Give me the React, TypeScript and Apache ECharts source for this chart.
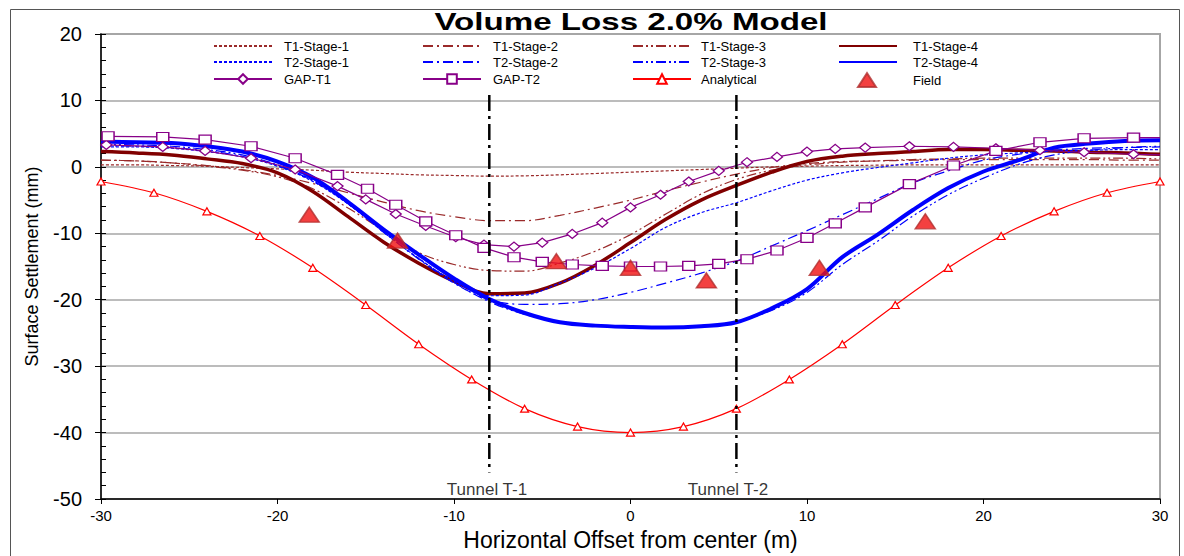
import React, { useEffect, useRef } from "react";
import * as echarts from "echarts";

// ---------- data ----------
const xGrid = [-30, -28, -26, -24, -22, -20, -18, -16, -14, -12, -10, -8, -6, -4, -2, 0, 2, 4, 6, 8, 10, 12, 14, 16, 18, 20, 22, 24, 26, 28, 30];

const t1Stage1 = [0.3, 0.3, 0.2, 0.1, -0.1, -0.3, -0.5, -0.8, -1.0, -1.2, -1.3, -1.4, -1.35, -1.2, -1.0, -0.8, -0.6, -0.4, -0.2, 0.0, 0.1, 0.2, 0.25, 0.3, 0.3, 0.3, 0.3, 0.3, 0.3, 0.3, 0.3];
const t1Stage2 = [1.0, 0.9, 0.6, 0.2, -0.4, -1.3, -2.5, -3.9, -5.3, -6.6, -7.5, -8.1, -8.1, -7.3, -6.2, -5.0, -3.6, -2.3, -1.1, -0.1, 0.5, 0.8, 0.9, 1.0, 1.1, 1.1, 1.1, 1.1, 1.1, 1.0, 1.0];
const t1Stage3 = [1.0, 0.9, 0.6, 0.1, -0.5, -1.5, -3.3, -6.2, -9.6, -12.9, -14.7, -15.6, -15.7, -14.5, -12.7, -10.2, -7.1, -4.1, -1.9, -0.5, 0.3, 0.7, 0.9, 1.1, 1.2, 1.3, 1.3, 1.3, 1.3, 1.3, 1.2];
const t1Stage4 = [2.3, 2.1, 1.8, 1.2, 0.5, -0.9, -3.7, -7.5, -11.3, -14.5, -17.2, -19.1, -19.0, -17.5, -14.8, -11.4, -7.9, -5.0, -2.8, -0.8, 0.8, 1.6, 2.0, 2.3, 2.6, 2.6, 2.5, 2.4, 2.2, 2.1, 1.9];
const t2Stage1 = [3.0, 3.0, 2.8, 2.3, 1.5, 0.1, -2.2, -5.6, -9.8, -13.8, -17.2, -19.4, -19.3, -17.5, -15.2, -12.3, -9.1, -6.9, -5.4, -3.6, -2.0, -0.9, -0.1, 0.6, 1.3, 1.8, 2.1, 2.4, 2.5, 2.6, 2.6];
const t2Stage2 = [3.2, 3.1, 2.9, 2.4, 1.6, 0.2, -2.1, -5.5, -9.8, -13.9, -17.5, -20.0, -20.7, -20.6, -20.0, -18.9, -17.5, -16.0, -14.2, -11.9, -9.6, -7.2, -4.8, -2.4, -0.6, 1.0, 1.9, 2.5, 2.8, 2.9, 3.0];
const t2Stage3 = [3.4, 3.3, 3.1, 2.6, 1.8, 0.3, -2.0, -5.5, -9.8, -13.8, -17.4, -20.3, -22.2, -23.3, -23.8, -24.0, -24.1, -23.9, -23.3, -21.6, -18.9, -14.7, -11.2, -7.4, -4.2, -1.7, 0.4, 1.8, 2.5, 2.9, 3.1];
const t2Stage4 = [3.8, 3.7, 3.6, 3.1, 2.3, 0.8, -1.6, -5.3, -9.4, -13.2, -16.8, -19.9, -22.0, -23.4, -23.9, -24.1, -24.2, -24.0, -23.4, -21.3, -18.4, -13.6, -10.2, -6.5, -3.2, -0.7, 1.0, 2.9, 3.5, 3.9, 4.0];

const gapT1X = [-29.7, -26.5, -24.1, -21.5, -19.0, -16.6, -15.0, -13.3, -11.6, -9.9, -8.3, -6.6, -5.0, -3.3, -1.6, 0.0, 1.7, 3.3, 5.0, 6.6, 8.3, 10.0, 11.6, 13.3, 15.8, 18.3, 20.7, 23.2, 25.7, 28.5];
const gapT1Y = [3.3, 3.0, 2.4, 1.3, -0.4, -2.9, -4.9, -7.1, -8.9, -10.6, -11.7, -12.0, -11.4, -10.1, -8.4, -6.1, -4.2, -2.2, -0.6, 0.7, 1.5, 2.3, 2.7, 2.9, 3.1, 3.0, 2.8, 2.5, 2.2, 1.9];
const gapT1End = [30, 1.8];

const gapT2X = [-29.6, -26.5, -24.1, -21.5, -19.0, -16.6, -14.9, -13.3, -11.6, -9.9, -8.3, -6.6, -5.0, -3.3, -1.6, 0.0, 1.7, 3.3, 5.0, 6.6, 8.3, 10.0, 11.6, 13.3, 15.8, 18.3, 20.7, 23.2, 25.7, 28.5];
const gapT2Y = [4.6, 4.5, 4.1, 3.1, 1.3, -1.2, -3.3, -5.7, -8.2, -10.3, -12.2, -13.6, -14.3, -14.7, -14.9, -15.0, -15.0, -14.9, -14.6, -13.9, -12.6, -10.7, -8.5, -6.1, -2.6, 0.2, 2.4, 3.7, 4.3, 4.4];
const gapT2End = [30, 4.4];

const analyticalX = [-30, -27, -24, -21, -18, -15, -12, -9, -6, -3, 0, 3, 6, 9, 12, 15, 18, 21, 24, 27, 30];
const analyticalY = [-2.2, -3.9, -6.7, -10.4, -15.2, -20.8, -26.7, -32.0, -36.4, -39.1, -40.0, -39.1, -36.4, -32.0, -26.7, -20.8, -15.2, -10.4, -6.7, -3.9, -2.2];

const fieldX = [-18.2, -13.2, -4.2, 0.0, 4.3, 10.7, 16.7];
const fieldY = [-7.2, -11.1, -14.2, -15.2, -17.1, -15.2, -8.2];

const tunnelX = [-8, 6];
const tunnelTop = 10.8;
const tunnelBottom = -46;
const tunnelLabels = ["Tunnel T-1", "Tunnel T-2"];
const tunnelLabelX = [-8.13, 5.52];
const tunnelLabelY = -48.5;

const legendNames = [
  "T1-Stage-1", "T1-Stage-2", "T1-Stage-3", "T1-Stage-4",
  "T2-Stage-1", "T2-Stage-2", "T2-Stage-3", "T2-Stage-4",
  "GAP-T1", "GAP-T2", "Analytical", "Field",
];

const titleText = "Volume Loss 2.0% Model";
const xAxisName = "Horizontal Offset from center (m)";
const yAxisName = "Surface Settlement (mm)";

// ---------- styling ----------
const FONT = "Liberation Sans, Arial, sans-serif";
const T1C = "#9A2A2A";
const T1DARK = "#800000";
const T2C = "#0000FF";
const GAPC = "#880088";
const DOT = [3, 2];
const DASHDOT = [10, 4, 2, 4];
const DASHDOTDOT = [10, 3, 2, 3, 2, 3];

function curve(name: string, ys: number[], color: string, width: number, type: any) {
  return {
    type: "line",
    name,
    data: xGrid.map((x, i) => [x, ys[i]]),
    smooth: 0.35,
    symbol: "none",
    lineStyle: { color, width, type },
    itemStyle: { color: "rgba(0,0,0,0)" },
    z: 2,
  };
}

function gapSeries(name: string, xs: number[], ys: number[], end: number[], symbol: string, size: number[]) {
  const data: any[] = xs.map((x, i) => [x, ys[i]]);
  data.push({ value: end, symbol: "none" });
  return {
    type: "line",
    name,
    data,
    symbol,
    symbolSize: size,
    showAllSymbol: true,
    lineStyle: { color: GAPC, width: 1.2 },
    itemStyle: { color: "#FFFFFF", borderColor: GAPC, borderWidth: 1.3 },
    z: 3,
  };
}

export default function App() {
  const ref = useRef<HTMLDivElement>(null);

  useEffect(() => {
    if (!ref.current) return;
    const chart = echarts.init(ref.current, null, { renderer: "svg" });

    const colX = [213, 422, 632, 838];
    const rowY = [46, 62, 79];
    const pads = [7, 7, 5, 11];
    const legends = legendNames.map((name, i) => {
      const col = i % 4;
      const row = Math.floor(i / 4);
      const isField = name === "Field";
      return {
        data: [name],
        left: isField ? 857 : colX[col],
        top: rowY[row] - 7,
        itemWidth: isField ? 18 : 58,
        itemHeight: isField ? 14 : 12,
        selectedMode: false,
        padding: 0,
        textStyle: {
          fontSize: 13,
          fontFamily: FONT,
          color: "#000",
          lineHeight: 14,
          padding: [0, 0, 0, isField ? 32 : pads[col]],
        },
      };
    });

    const series: any[] = [
      curve("T1-Stage-1", t1Stage1, T1C, 1.2, DOT),
      curve("T1-Stage-2", t1Stage2, T1C, 1.2, DASHDOT),
      curve("T1-Stage-3", t1Stage3, T1C, 1.2, DASHDOTDOT),
      curve("T1-Stage-4", t1Stage4, T1DARK, 3.5, "solid"),
      curve("T2-Stage-1", t2Stage1, T2C, 1.2, DOT),
      curve("T2-Stage-2", t2Stage2, T2C, 1.2, DASHDOT),
      curve("T2-Stage-3", t2Stage3, T2C, 1.2, DASHDOTDOT),
      curve("T2-Stage-4", t2Stage4, T2C, 4, "solid"),
      gapSeries("GAP-T1", gapT1X, gapT1Y, gapT1End, "diamond", [11, 9]),
      gapSeries("GAP-T2", gapT2X, gapT2Y, gapT2End, "rect", [12, 9]),
      {
        type: "line",
        name: "Analytical",
        data: analyticalX.map((x, i) => [x, analyticalY[i]]),
        smooth: 0.3,
        symbol: "triangle",
        symbolSize: [8, 7],
        lineStyle: { color: "#FF0000", width: 1.2 },
        itemStyle: { color: "#FFFFFF", borderColor: "#FF0000", borderWidth: 1.2 },
        z: 3,
      },
    ];

    tunnelX.forEach((tx, i) => {
      series.push({
        type: "line",
        name: "tunnel" + i,
        data: [[tx, tunnelTop], [tx, tunnelBottom]],
        symbol: "none",
        silent: true,
        lineStyle: { color: "#000", width: 2.5, type: [16, 5, 3, 5] },
        z: 4,
      });
    });

    series.push({
      type: "scatter",
      name: "tunnelLabels",
      data: tunnelLabels.map((t, i) => ({ value: [tunnelLabelX[i], tunnelLabelY], name: t })),
      symbolSize: 1,
      itemStyle: { color: "rgba(0,0,0,0)" },
      silent: true,
      label: {
        show: true,
        formatter: "{b}",
        position: "inside",
        color: "#000",
        fontSize: 17,
        fontFamily: FONT,
      },
      z: 5,
    });

    series.push({
      type: "scatter",
      name: "Field",
      data: fieldX.map((x, i) => [x, fieldY[i]]),
      symbol: "triangle",
      symbolSize: [20, 15],
      itemStyle: { color: "#F01010", borderColor: "#B03030", borderWidth: 1.5 },
      z: 6,
    });

    chart.setOption({
      animation: false,
      backgroundColor: "#FFFFFF",
      grid: {
        left: 101,
        right: 24,
        top: 34,
        bottom: 53,
        show: true,
        borderColor: "#A6A6A6",
        borderWidth: 2,
        backgroundColor: "transparent",
      },
      legend: legends,
      xAxis: {
        type: "value",
        min: -30,
        max: 30,
        interval: 10,
        name: xAxisName,
        nameLocation: "middle",
        nameGap: 29,
        nameTextStyle: { fontSize: 23, fontFamily: FONT, color: "#000" },
        axisLine: { show: true, onZero: false, lineStyle: { color: "#000", width: 1.5 } },
        axisTick: { show: true, inside: false, length: 5, lineStyle: { color: "#000" } },
        axisLabel: { fontSize: 15, fontFamily: FONT, color: "#000", margin: 9 },
        splitLine: { show: false },
      },
      yAxis: [
        {
          type: "value",
          min: -50,
          max: 20,
          interval: 10,
          name: yAxisName,
          nameLocation: "middle",
          nameGap: 60,
          nameTextStyle: { fontSize: 18, fontFamily: FONT, color: "#000" },
          axisLine: { show: true, onZero: false, lineStyle: { color: "#000", width: 1.5 } },
          axisTick: { show: true, inside: false, length: 6, lineStyle: { color: "#000" } },
          axisLabel: { fontSize: 20, fontFamily: FONT, color: "#000", margin: 19 },
          splitLine: { show: true, lineStyle: { color: "#A6A6A6", width: 1.5 } },
        },
        {
          type: "value",
          min: -50,
          max: 20,
          interval: 2,
          position: "left",
          offset: 0,
          axisLine: { show: false, onZero: false },
          axisTick: { show: true, inside: true, length: 5, lineStyle: { color: "#000" } },
          axisLabel: { show: false },
          splitLine: { show: false },
        },
      ],
      graphic: [
        {
          type: "rect",
          shape: { x: 10.5, y: 9.5, width: 1169, height: 560 },
          style: { fill: "none", stroke: "#555555", lineWidth: 1 },
          silent: true,
          z: -10,
        },
        {
          type: "text",
          x: 631,
          y: 22,
          scaleX: 1.38,
          style: {
            text: titleText,
            fontSize: 24,
            fontWeight: "bold",
            fontFamily: FONT,
            fill: "#000",
            textAlign: "center",
            textVerticalAlign: "middle",
          },
          silent: true,
        },
      ],
      series,
    });

    return () => chart.dispose();
  }, []);

  return (
    <div
      ref={ref}
      style={{ position: "fixed", left: 0, top: 0, width: 1184, height: 556 }}
    />
  );
}
